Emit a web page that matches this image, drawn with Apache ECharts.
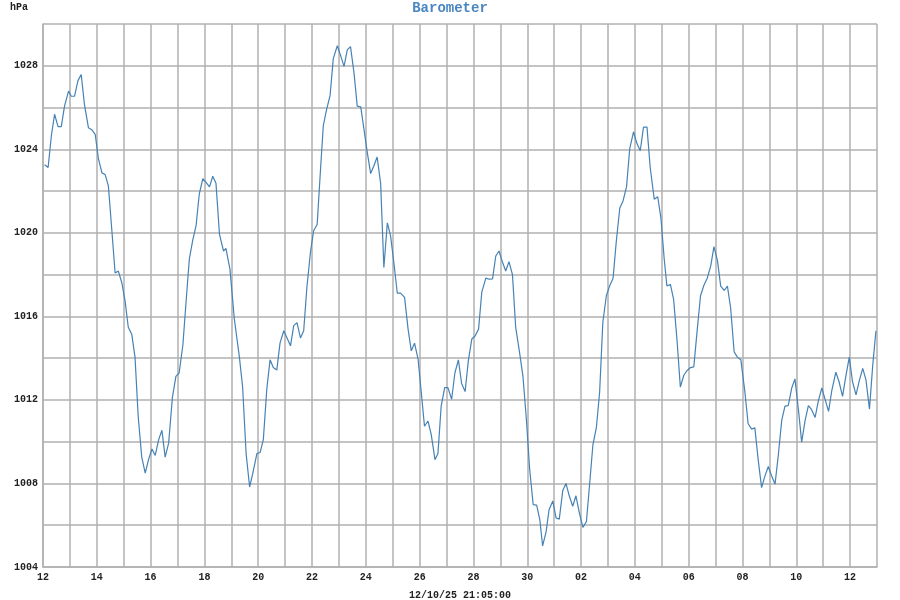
<!DOCTYPE html>
<html>
<head>
<meta charset="utf-8">
<script src="https://cdn.jsdelivr.net/npm/echarts@6/dist/echarts.min.js"></script>
<style>html,body{margin:0;padding:0;background:#fff}#c{width:900px;height:600px}</style>
</head>
<body>
<div id="c"></div>
<script>
// Days since 2025-09-12 00:00
const days = [
0.06,0.19,0.31,0.43,0.56,0.68,0.80,0.95,1.05,1.17,1.30,1.42,1.54,1.69,1.81,1.94,2.06,2.19,2.31,2.43,
2.56,2.68,2.80,2.93,3.05,3.17,3.30,3.42,3.54,3.67,3.80,3.93,4.05,4.17,4.30,4.42,4.54,4.67,4.81,4.94,
5.06,5.20,5.32,5.44,5.57,5.69,5.81,5.94,6.06,6.19,6.31,6.43,6.56,6.71,6.80,6.95,7.11,7.30,7.42,7.55,
7.68,7.80,7.95,8.07,8.19,8.32,8.44,8.56,8.69,8.81,8.95,9.07,9.20,9.32,9.44,9.57,9.69,9.81,9.94,10.06,
10.19,10.32,10.42,10.54,10.67,10.79,10.94,11.06,11.19,11.31,11.43,11.56,11.68,11.81,11.93,12.05,12.18,12.30,12.42,12.55,
12.67,12.80,12.92,13.04,13.17,13.29,13.44,13.57,13.69,13.81,13.94,14.06,14.18,14.31,14.43,14.57,14.68,14.80,14.93,15.05,
15.19,15.31,15.44,15.56,15.69,15.81,15.94,16.06,16.19,16.31,16.46,16.58,16.71,16.83,16.95,17.08,17.20,17.32,17.45,17.57,
17.72,17.84,17.97,18.09,18.22,18.35,18.47,18.57,18.70,18.81,18.95,19.07,19.19,19.32,19.44,19.56,19.69,19.81,19.94,20.07,
20.20,20.32,20.44,20.57,20.69,20.81,20.94,21.06,21.19,21.31,21.44,21.56,21.69,21.81,21.95,22.07,22.20,22.32,22.45,22.57,
22.72,22.85,22.97,23.09,23.19,23.32,23.44,23.57,23.69,23.82,23.94,24.07,24.19,24.32,24.44,24.57,24.69,24.82,24.94,25.07,
25.19,25.32,25.44,25.56,25.69,25.81,25.94,26.09,26.21,26.34,26.46,26.58,26.71,26.83,26.96,27.08,27.21,27.33,27.46,27.58,
27.70,27.83,27.95,28.08,28.20,28.33,28.45,28.57,28.70,28.82,28.95,29.07,29.20,29.32,29.47,29.59,29.72,29.84,29.97,30.09,
30.22,30.34,30.47,30.59,30.72,30.84,30.96
];
const hPa = [
1023.26,1023.13,1024.64,1025.68,1025.09,1025.09,1026.07,1026.79,1026.54,1026.54,1027.29,1027.58,1026.15,1025.03,1024.94,1024.72,1023.55,1022.87,1022.79,1022.25,
1020.10,1018.08,1018.17,1017.61,1016.74,1015.48,1015.14,1014.05,1011.19,1009.26,1008.50,1009.18,1009.65,1009.34,1010.10,1010.55,1009.26,1009.93,1012.12,1013.13,
1013.29,1014.64,1016.74,1018.76,1019.68,1020.35,1021.87,1022.59,1022.42,1022.20,1022.71,1022.37,1019.93,1019.13,1019.26,1018.25,1015.90,1014.05,1012.62,1009.43,
1007.83,1008.50,1009.43,1009.48,1010.10,1012.54,1013.92,1013.55,1013.43,1014.72,1015.31,1014.97,1014.59,1015.56,1015.70,1014.97,1015.31,1017.41,1019.06,1020.10,
1020.40,1023.13,1025.14,1025.90,1026.57,1028.34,1028.96,1028.50,1027.97,1028.76,1028.92,1027.66,1026.07,1026.03,1024.97,1023.88,1022.84,1023.21,1023.63,1022.37,
1018.34,1020.48,1019.85,1018.59,1017.11,1017.11,1016.91,1015.39,1014.35,1014.72,1013.97,1012.37,1010.74,1010.99,1010.35,1009.14,1009.43,1011.70,1012.59,1012.59,
1012.03,1013.29,1013.92,1012.79,1012.40,1013.88,1014.92,1015.06,1015.39,1017.16,1017.83,1017.78,1017.80,1018.89,1019.13,1018.59,1018.17,1018.62,1018.00,1015.48,
1014.22,1013.13,1011.03,1008.67,1006.99,1006.96,1006.24,1005.01,1005.68,1006.74,1007.16,1006.35,1006.29,1007.66,1008.00,1007.41,1006.91,1007.41,1006.57,1005.90,
1006.18,1008.00,1009.85,1010.69,1012.37,1015.73,1016.99,1017.45,1017.83,1019.60,1021.19,1021.53,1022.20,1024.05,1024.84,1024.30,1023.93,1025.06,1025.06,1023.13,
1021.61,1021.73,1020.69,1018.76,1017.46,1017.53,1016.82,1014.81,1012.62,1013.18,1013.41,1013.55,1013.58,1015.39,1016.99,1017.50,1017.83,1018.42,1019.34,1018.67,
1017.45,1017.24,1017.45,1016.40,1014.30,1014.05,1013.92,1012.37,1010.86,1010.60,1010.66,1009.18,1007.80,1008.34,1008.81,1008.37,1007.97,1009.34,1011.03,1011.70,
1011.73,1012.57,1013.01,1011.53,1009.98,1011.03,1011.73,1011.53,1011.16,1011.95,1012.57,1012.03,1011.45,1012.45,1013.33,1012.87,1012.17,1013.13,1014.05,1012.87,
1012.24,1012.91,1013.51,1012.96,1011.56,1013.63,1015.31
];
const titleText = 'Barometer';
const unitText = 'hPa';
const stampText = '12/10/25 21:05:00';
const startDate = [2025, 8, 12]; // Sep 12 2025

const chart = echarts.init(document.getElementById('c'));
const font = '"Liberation Mono", "DejaVu Sans Mono", monospace';
const gridLine = { show: true, lineStyle: { color: '#b0b0b0', width: 1.5 } };
chart.setOption({
  animation: false,
  title: [
    { text: titleText, left: 'center', top: 1, padding: 0,
      textStyle: { fontFamily: font, fontSize: 14, fontWeight: 'bold', color: '#4a86c0' } },
    { text: unitText, left: 10, top: 2, padding: 0,
      textStyle: { fontFamily: font, fontSize: 10, fontWeight: 'bold', color: '#222' } }
  ],
  grid: { left: 43, right: 23, top: 24, bottom: 33, containLabel: false, outerBoundsMode: 'none' },
  xAxis: {
    type: 'value', min: 0, max: 31, interval: 1,
    name: stampText, nameLocation: 'middle', nameGap: 23,
    nameTextStyle: { fontFamily: font, fontSize: 10, fontWeight: 'bold', color: '#222' },
    axisLine: { show: true, lineStyle: { color: '#b0b0b0', width: 1.5 } },
    axisTick: { show: false },
    splitLine: gridLine,
    axisLabel: {
      fontFamily: font, fontSize: 10, fontWeight: 'bold', color: '#222', margin: 5,
      showMaxLabel: false,
      formatter: function (v) {
        if (Math.round(v) % 2 !== 0) return '';
        const d = new Date(startDate[0], startDate[1], startDate[2] + Math.round(v));
        return String(d.getDate()).padStart(2, '0');
      }
    }
  },
  yAxis: {
    type: 'value', min: 1004, max: 1030, interval: 2,
    axisLine: { show: true, lineStyle: { color: '#b0b0b0', width: 1.5 } },
    axisTick: { show: false },
    splitLine: gridLine,
    axisLabel: {
      fontFamily: font, fontSize: 10, fontWeight: 'bold', color: '#222', margin: 5,
      formatter: function (v) { return (v % 4 === 0 && v < 1030) ? String(v) : ''; }
    }
  },
  series: [{
    type: 'line',
    data: days.map((d, i) => [d, hPa[i]]),
    showSymbol: false,
    lineStyle: { color: '#4682b4', width: 1.2 },
    itemStyle: { color: '#4682b4' }
  }]
});
</script>
</body>
</html>
